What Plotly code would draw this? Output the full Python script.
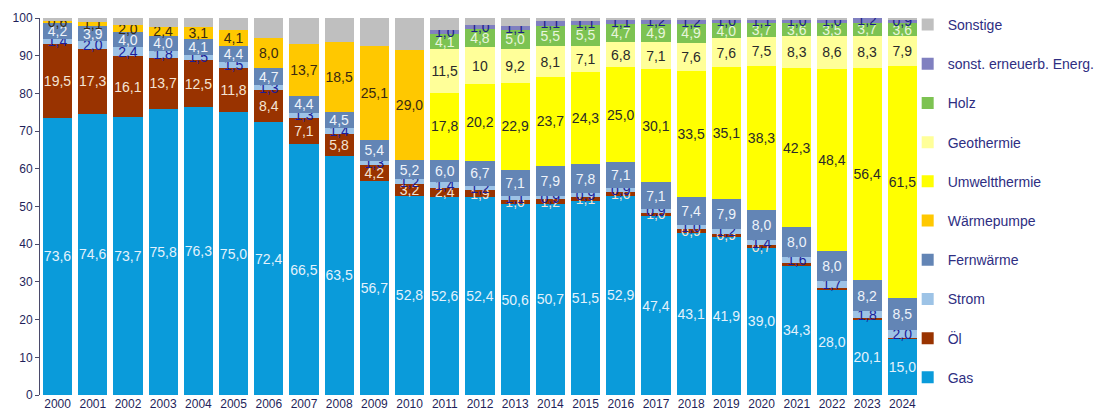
import plotly.graph_objects as go

years = [str(y) for y in range(2000, 2025)]

gas = [73.6, 74.6, 73.7, 75.8, 76.3, 75.0, 72.4, 66.5, 63.5, 56.7, 52.8, 52.6, 52.4,
       50.6, 50.7, 51.5, 52.9, 47.4, 43.1, 41.9, 39.0, 34.3, 28.0, 20.1, 15.0]
oel = [19.5, 17.3, 16.1, 13.7, 12.5, 11.8, 8.4, 7.1, 5.8, 4.2, 3.2, 2.4, 1.9,
       1.0, 1.2, 1.1, 1.0, 1.0, 0.9, 0.9, 0.7, 0.6, 0.5, 0.3, 0.2]
strom = [1.4, 2.0, 2.4, 1.8, 1.5, 1.5, 1.3, 1.3, 1.4, 1.3, 1.2, 1.4, 1.2,
         1.1, 0.9, 0.9, 0.9, 0.9, 1.0, 1.2, 1.4, 1.6, 1.7, 1.8, 2.0]
fernwaerme = [4.2, 3.9, 4.0, 4.0, 4.1, 4.4, 4.7, 4.4, 4.5, 5.4, 5.2, 6.0, 6.7,
              7.1, 7.9, 7.8, 7.1, 7.1, 7.4, 7.9, 8.0, 8.0, 8.0, 8.2, 8.5]
waermepumpe = [0.6, 1.1, 2.0, 2.4, 3.1, 4.1, 8.0, 13.7, 18.5, 25.1, 29.0] + [None] * 14
umweltthermie = [None] * 11 + [17.8, 20.2, 22.9, 23.7, 24.3, 25.0, 30.1, 33.5, 35.1,
                               38.3, 42.3, 48.4, 56.4, 61.5]
geothermie = [None] * 11 + [11.5, 10.0, 9.2, 8.1, 7.1, 6.8, 7.1, 7.6, 7.6,
                            7.5, 8.3, 8.6, 8.3, 7.9]
holz = [None] * 11 + [4.1, 4.8, 5.0, 5.5, 5.5, 4.7, 4.9, 4.9, 4.0,
                      3.7, 3.6, 3.5, 3.7, 3.6]
sonst_ee = [None] * 11 + [1.0, 1.0, 1.1, 1.1, 1.1, 1.1, 1.2, 1.2, 1.0,
                          1.1, 1.0, 1.0, 1.2, 0.9]
sonstige = [0.7, 1.1, 1.8, 2.3, 2.5, 3.2, 5.2, 7.0, 6.3, 7.3, 8.6, 3.2, 1.8,
            2.0, 0.9, 0.7, 0.5, 0.3, 0.4, 0.4, 0.3, 0.3, 0.3, 0.0, 0.4]

geo_labels = {"2012": "10"}
oel_label_until = 2020


def fmt(v):
    if v is None:
        return ""
    return f"{v:.1f}".replace(".", ",")


series = [
    ("Gas", gas, "#0A9BDA", "#E4F2FC", None),
    ("Öl", oel, "#993300", "#F4E4D4", oel_label_until),
    ("Strom", strom, "#9DC3E6", "#1C1C9A", None),
    ("Fernwärme", fernwaerme, "#6385B5", "#EEF3FA", None),
    ("Wärmepumpe", waermepumpe, "#FFC800", "#3A2A10", None),
    ("Umweltthermie", umweltthermie, "#FFFF00", "#2A2A2A", None),
    ("Geothermie", geothermie, "#FFFF99", "#2A2A2A", None),
    ("Holz", holz, "#7DC352", "#E8F6DC", None),
    ("sonst. erneuerb. Energ.", sonst_ee, "#8080C0", "#1C1C8A", None),
    ("Sonstige", sonstige, "#BFBFBF", "#333333", "none"),
]

fig = go.Figure()
n = len(series)
for i, (name, vals, color, tcolor, lim) in enumerate(series):
    texts = []
    for yr, v in zip(years, vals):
        if lim == "none" or v is None or v == 0:
            texts.append("")
        elif isinstance(lim, int) and int(yr) > lim:
            texts.append("")
        elif name == "Geothermie" and yr in geo_labels:
            texts.append(geo_labels[yr])
        else:
            texts.append(fmt(v))
    fig.add_trace(go.Bar(
        x=years, y=vals, name=name, legendgroup=name, legendrank=100 * (n - i),
        marker=dict(color=color, line=dict(width=0)),
        text=texts, textposition="inside", insidetextanchor="middle",
        textangle=0, constraintext="none",
        textfont=dict(family="Liberation Sans, Arial, sans-serif", size=14, color=tcolor),
        hoverinfo="x+y+name",
    ))

fig.update_layout(
    barmode="stack",
    bargap=0.17,
    width=1094, height=404,
    margin=dict(l=32, r=182, t=10, b=17, autoexpand=False),
    paper_bgcolor="white", plot_bgcolor="white",
    uniformtext=dict(minsize=14, mode="show"),
    font=dict(family="Liberation Sans, Arial, sans-serif", color="#2B2B6B"),
    legend=dict(
        x=0.986, xanchor="left", y=1.024, yanchor="top",
        traceorder="grouped", tracegroupgap=18, maxheight=1.0,
        font=dict(size=14, color="#2E2E82"),
        itemwidth=30, bgcolor="rgba(0,0,0,0)",
    ),
    showlegend=True,
)
fig.update_xaxes(
    type="category", showgrid=False, showline=False, ticks="",
    tickfont=dict(size=12, color="#1F1F5A"),
)
fig.update_yaxes(
    range=[0, 100], dtick=10, showgrid=False, zeroline=False,
    showline=True, linecolor="#4A4A6A", linewidth=1,
    ticks="outside", ticklen=4, tickcolor="#4A4A6A",
    tickfont=dict(size=12, color="#1F1F5A"),
)

fig.write_html("out.html")
